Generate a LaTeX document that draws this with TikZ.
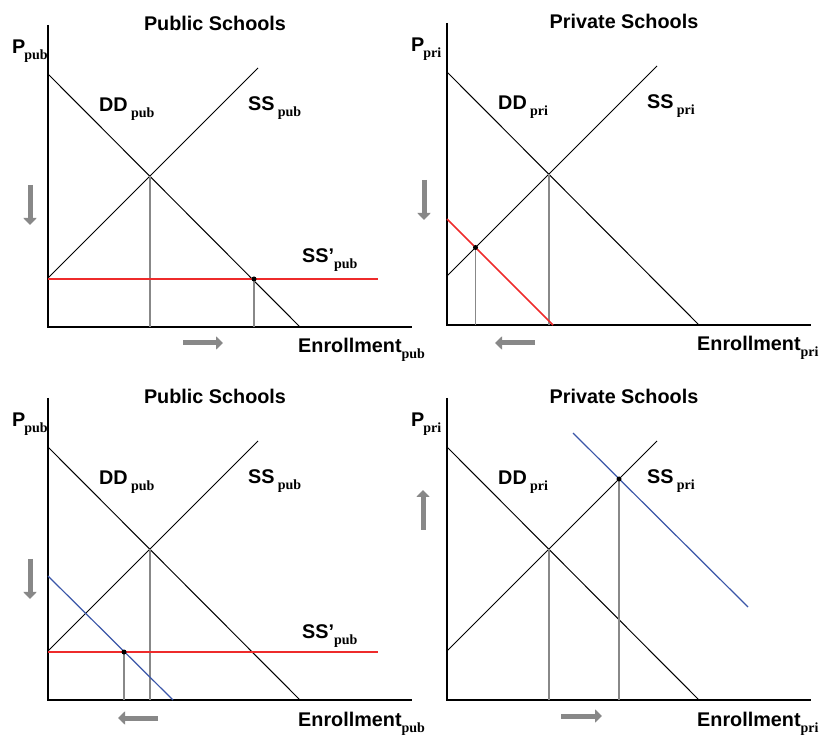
\documentclass[tikz,border=0pt]{standalone}
\usepackage{fontspec}
\setmainfont{Liberation Sans}
\newfontfamily\subfont{Liberation Serif}
\usetikzlibrary{arrows.meta}
\definecolor{chRed}{HTML}{EE2B2B}
\definecolor{chBlue}{HTML}{3A56A8}
\definecolor{chGrey}{HTML}{888888}
\newcommand{\lsub}[1]{\raisebox{-6pt}{\fontsize{14}{14}\selectfont\subfont\bfseries #1}}

\begin{document}
\begin{tikzpicture}[x=1pt,y=1pt,font=\fontsize{19.8}{23}\selectfont\bfseries,
  axisline/.style={line width=2pt},
  schedule/.style={line width=1pt},
  droplin/.style={chGrey,line width=1.8pt},
  movearrow/.style={chGrey,line width=5pt,-{Triangle[width=13pt,length=7pt]}},
  eqdot/.style={circle,fill=black,inner sep=0pt,minimum size=5pt},
  lab/.style={anchor=base west,inner sep=0pt}]
  \useasboundingbox (0,0) rectangle (825,737);
  % common part of the four panels
  \foreach \ox/\oy/\sb/\ttl/\tx [count=\i] in {48/410/pub/Public/167, 447/412/pri/Private/177, 48/37/pub/Public/167, 447/37/pri/Private/177}{
    \begin{scope}[shift={(\ox,\oy)}]
      \draw[axisline] (0,302) -- (0,0) -- (364,0);
      \draw[schedule] (0,253) -- (252,0);                 % demand
      \draw[schedule] (0,49) -- (210,259);                % supply
      \draw[droplin] (102,0) -- (102,151);
      \node[anchor=base,inner sep=0pt] (title\i) at (\tx,296) {\ttl\ Schools};
      \node[lab] (price\i) at (-36,273) {P\kern-1pt\lsub{\sb}};
      \node[lab] (dd\i) at (51,215) {DD\,\lsub{\sb}};
      \node[lab] (ss\i) at (200,216) {SS\,\lsub{\sb}};
      \node[lab] (enrol\i) at (250,-26) {Enrollment\lsub{\sb}};
    \end{scope}}
  % top left: public schools, subsidy
  \begin{scope}[shift={(48,410)}]
    \draw[chRed,line width=1.5pt] (0,48) -- (330,48);
    \draw[droplin] (206,0) -- (206,48);
    \node[eqdot] (eqa) at (206,48) {};
    \node[lab] (ssnewa) at (254,64) {SS’\lsub{pub}};
    \draw[movearrow] (-18,142) -- (-18,102);
    \draw[movearrow] (135,-16) -- (175,-16);
  \end{scope}
  % top right: private schools
  \begin{scope}[shift={(447,412)}]
    \draw[chRed,line width=1.5pt] (0,106) -- (106,0);
    \draw[droplin] (28.5,0) -- (28.5,77.5);
    \node[eqdot] (eqb) at (28.5,77.5) {};
    \draw[movearrow] (-23,145) -- (-23,105);
    \draw[movearrow] (88,-18) -- (48,-18);
  \end{scope}
  % bottom left: public schools, demand falls
  \begin{scope}[shift={(48,37)}]
    \draw[chRed,line width=1.5pt] (0,48) -- (330,48);
    \draw[chBlue,line width=1.2pt] (0,124) -- (125,0);
    \draw[droplin] (76,0) -- (76,48);
    \node[eqdot] (eqc) at (76,48) {};
    \node[lab] (ssnewc) at (254,62) {SS’\lsub{pub}};
    \draw[movearrow] (-18,141) -- (-18,101);
    \draw[movearrow] (110,-18) -- (70,-18);
  \end{scope}
  % bottom right: private schools, demand rises
  \begin{scope}[shift={(447,37)}]
    \draw[chBlue,line width=1.2pt] (126,267) -- (301,93);
    \draw[droplin] (172,0) -- (172,221);
    \node[eqdot] (eqd) at (172,221) {};
    \draw[movearrow] (-24,170) -- (-24,210);
    \draw[movearrow] (114,-16) -- (155,-16);
  \end{scope}
\end{tikzpicture}
\end{document}
